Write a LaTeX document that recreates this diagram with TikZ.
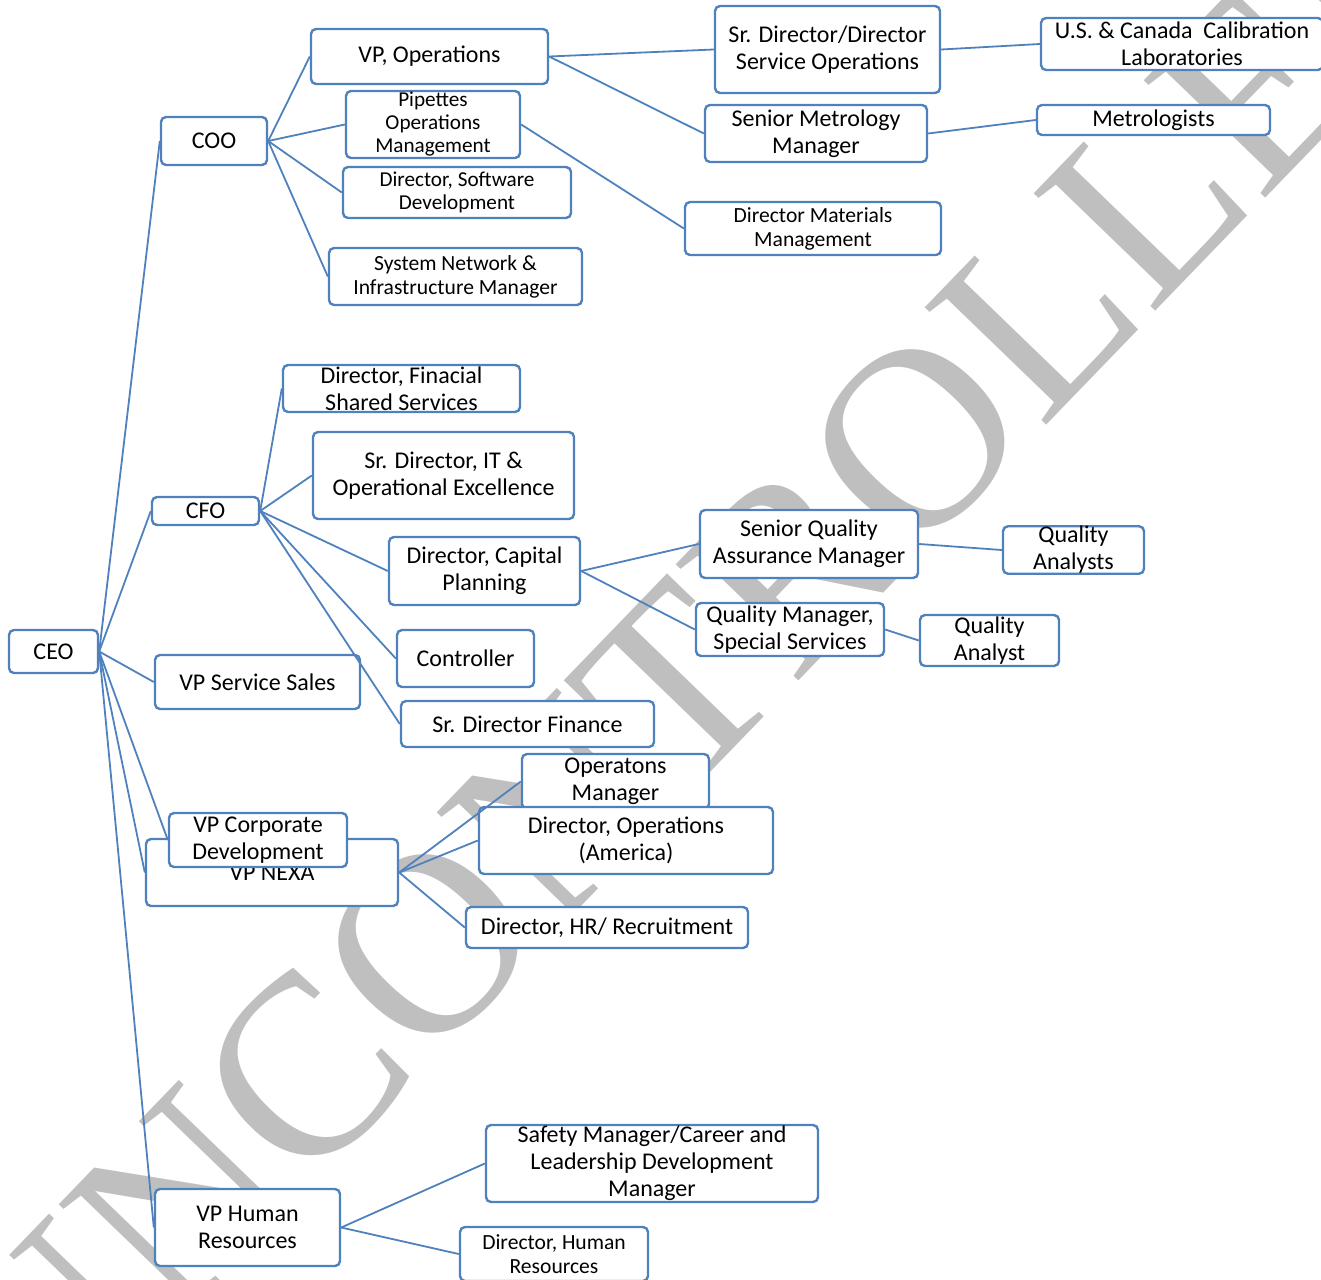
\documentclass[tikz,border=0pt]{standalone}
\usepackage{fontspec}
\setmainfont{Carlito}
\newfontfamily\wmfont{Liberation Serif}

\definecolor{orgblue}{RGB}{79,129,189}
\definecolor{wmgray}{RGB}{191,191,191}

\tikzset{
  orgbox/.style={draw=orgblue, line width=1.2pt, rounded corners=2.5pt, fill=white,
    align=center, inner sep=0pt, font=\fontsize{12}{13.5}\selectfont},
  bx/.style 2 args={orgbox, minimum width=#1*0.5pt, minimum height=#2*0.5pt},
  txtnine/.style={font=\fontsize{10.6}{11.5}\selectfont},
  txtten/.style={font=\fontsize{10.8}{12}\selectfont},
  link/.style={orgblue, line width=0.9pt}
}

\begin{document}
\begin{tikzpicture}[x=0.5pt, y=-0.5pt]
    \useasboundingbox (0,0) rectangle (1321,1279);
    \clip (0,0) rectangle (1321,1279);

    % Marca d'agua
    \node[rotate=46, text=wmgray, font=\wmfont\fontsize{129}{129}\selectfont] (wm) at (712,650) {UNCONTROLLED};

    % Topo
    \node[bx={89}{43}] (ceo) at (53.5,651.5) {CEO};

    % Ramo COO
    \node[bx={106}{48}] (coo) at (214,141) {COO};
    \node[bx={237}{55}] (vpops) at (429.5,56.5) {VP, Operations};
    \node[bx={174}{67}, txtnine] (pipettes) at (433,124.5) {Pipettes\\Operations\\Management};
    \node[bx={228}{51}, txtnine] (dirsoft) at (457,192.5) {Director, Software\\Development};
    \node[bx={253}{57}, txtten] (sysnet) at (455.5,276.5) {System Network \&\\Infrastructure Manager};
    \node[bx={225}{87}] (srdirsvc) at (827.5,49.5) {Sr. Director/Director\\Service Operations};
    \node[bx={222}{57}] (srmetro) at (816,133.5) {Senior Metrology\\Manager};
    \node[bx={256}{53}, txtten] (dirmat) at (813,228.5) {Director Materials\\Management};
    \node[bx={282}{52}] (uscal) at (1182,44) {U.S. \& Canada\ \ Calibration\\Laboratories};
    \node[bx={233}{30}] (metro) at (1153.5,120) {Metrologists};

    % Ramo CFO
    \node[bx={107}{28}] (cfo) at (205.5,511) {CFO};
    \node[bx={237}{47}] (dirfin) at (401.5,388.5) {Director, Finacial\\Shared Services};
    \node[bx={261}{87}] (srdirit) at (443.5,475.5) {Sr. Director, IT \&\\Operational Excellence};
    \node[bx={191}{68}] (dircap) at (484.5,571) {Director, Capital\\Planning};
    \node[bx={137}{57}] (controller) at (465.5,658.5) {Controller};
    \node[bx={253}{46}] (srdirfin) at (527.5,724) {Sr. Director Finance};
    \node[bx={218}{68}] (srqa) at (809,544) {Senior Quality\\Assurance Manager};
    \node[bx={188}{53}] (qmss) at (790,629.5) {Quality Manager,\\Special Services};
    \node[bx={141}{46}] (qanalysts) at (1073.5,550) {Quality\\Analysts};
    \node[bx={139}{51}] (qanalyst) at (989.5,640.5) {Quality\\Analyst};

    % Vendas, NEXA e desenvolvimento
    \node[bx={205}{54}] (vpsales) at (257.5,682) {VP Service Sales};
    \node[bx={252}{67}] (vpnexa) at (272,872.5) {VP NEXA};
    \node[bx={178}{54}] (vpcorp) at (258,840) {VP Corporate\\Development};
    \node[bx={187}{55}] (opsmgr) at (615.5,781.5) {Operatons\\Manager};
    \node[bx={294}{67}] (dirops) at (626,840.5) {Director, Operations\\(America)};
    \node[bx={282}{41}] (dirhr) at (607,927.5) {Director, HR/ Recruitment};

    % Recursos humanos
    \node[bx={185}{77}] (vphr) at (247.5,1227.5) {VP Human\\Resources};
    \node[bx={332}{77}] (safety) at (652,1163.5) {Safety Manager/Career and\\Leadership Development\\Manager};
    \node[bx={188}{54}, txtten] (dirhum) at (554,1254) {Director, Human\\Resources};

    % Ligacoes
    \foreach \kid in {coo, cfo, vpsales, vpcorp, vpnexa, vphr}
        \draw[link] (ceo.east) -- (\kid.west);
    \foreach \kid in {vpops, pipettes, dirsoft, sysnet}
        \draw[link] (coo.east) -- (\kid.west);
    \foreach \kid in {srdirsvc, srmetro}
        \draw[link] (vpops.east) -- (\kid.west);
    \draw[link] (pipettes.east) -- (dirmat.west);
    \draw[link] (srdirsvc.east) -- (uscal.west);
    \draw[link] (srmetro.east) -- (metro.west);
    \foreach \kid in {dirfin, srdirit, dircap, controller, srdirfin}
        \draw[link] (cfo.east) -- (\kid.west);
    \foreach \kid in {srqa, qmss}
        \draw[link] (dircap.east) -- (\kid.west);
    \draw[link] (srqa.east) -- (qanalysts.west);
    \draw[link] (qmss.east) -- (qanalyst.west);
    \foreach \kid in {opsmgr, dirops, dirhr}
        \draw[link] (vpnexa.east) -- (\kid.west);
    \foreach \kid in {safety, dirhum}
        \draw[link] (vphr.east) -- (\kid.west);

\end{tikzpicture}
\end{document}
